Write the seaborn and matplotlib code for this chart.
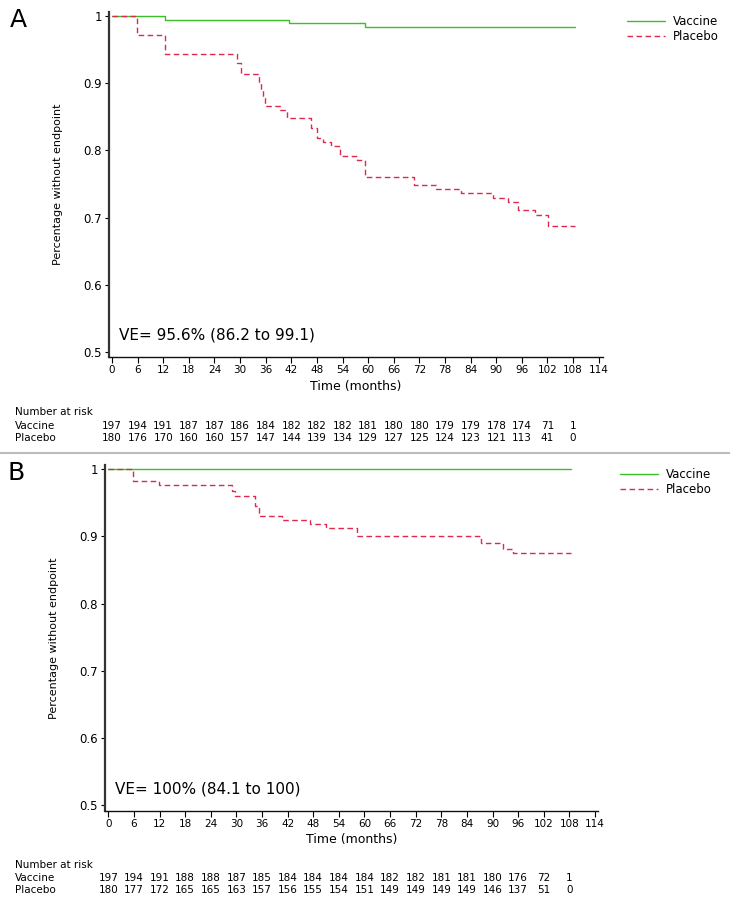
import numpy as np
import pandas as pd
import matplotlib
matplotlib.use("Agg")
import matplotlib.pyplot as plt
import matplotlib.transforms as mtransforms
import seaborn as sns

# ------------------------
# Data
# ------------------------

risk_months = [0, 6, 12, 18, 24, 30, 36, 42, 48, 54, 60, 66, 72, 78, 84, 90, 96, 102, 108]

# Panel A
a_vac_t = [0, 12.5, 41.5, 59.3, 108.5]
a_vac_s = [1.0, 0.994, 0.989, 0.984, 0.984]
a_pla_t = [0, 5.9, 12.4, 29.3, 30.3, 34.4, 34.9, 35.4, 35.9, 39.4, 40.9, 46.7, 47.9,
           49.5, 51.4, 53.4, 57.3, 59.2, 70.7, 76.0, 81.7, 89.2, 92.8, 95.2, 99.1, 102.2, 108.5]
a_pla_s = [1.0, 0.972, 0.943, 0.930, 0.913, 0.902, 0.890, 0.878, 0.866, 0.860, 0.848, 0.833, 0.819,
           0.813, 0.807, 0.791, 0.785, 0.760, 0.748, 0.742, 0.736, 0.729, 0.723, 0.711, 0.704, 0.688, 0.688]
a_risk_vac = [197, 194, 191, 187, 187, 186, 184, 182, 182, 182, 181, 180, 180, 179, 179, 178, 174, 71, 1]
a_risk_pla = [180, 176, 170, 160, 160, 157, 147, 144, 139, 134, 129, 127, 125, 124, 123, 121, 113, 41, 0]
a_ve = "VE= 95.6% (86.2 to 99.1)"

# Panel B
b_vac_t = [0, 108.3]
b_vac_s = [1.0, 1.0]
b_pla_t = [0, 5.9, 11.9, 28.9, 29.7, 34.4, 35.2, 40.6, 47.2, 51.1, 58.2, 87.4, 92.5, 94.7, 108.3]
b_pla_s = [1.0, 0.983, 0.977, 0.967, 0.961, 0.945, 0.930, 0.924, 0.918, 0.912, 0.900, 0.890, 0.882, 0.876, 0.876]
b_risk_vac = [197, 194, 191, 188, 188, 187, 185, 184, 184, 184, 184, 182, 182, 181, 181, 180, 176, 72, 1]
b_risk_pla = [180, 177, 172, 165, 165, 163, 157, 156, 155, 154, 151, 149, 149, 149, 149, 146, 137, 51, 0]
b_ve = "VE= 100% (84.1 to 100)"

y_ticks = [0.5, 0.6, 0.7, 0.8, 0.9, 1.0]
y_tick_labels = ["0.5", "0.6", "0.7", "0.8", "0.9", "1"]
x_ticks = list(range(0, 115, 6))

groups = ["Vaccine", "Placebo"]
palette = {"Vaccine": "#3cbf28", "Placebo": "#e0284e"}
dashes = {"Vaccine": "", "Placebo": (4, 2.5)}

sns.set_style("white")
plt.rcParams["font.family"] = ["DejaVu Sans"]
plt.rcParams["text.color"] = "black"
plt.rcParams["axes.labelcolor"] = "black"
plt.rcParams["xtick.color"] = "black"
plt.rcParams["ytick.color"] = "black"

fig = plt.figure(figsize=(7.3, 9.05), dpi=100)
W, H = 730, 905


def make_df(vt, vs, pt, ps):
    return pd.concat([
        pd.DataFrame({"time": vt, "surv": vs, "group": "Vaccine"}),
        pd.DataFrame({"time": pt, "surv": ps, "group": "Placebo"}),
    ], ignore_index=True)


def panel(box, df, letter, ve, risk_vac, risk_pla, xlim, ylim, legend_xy, letter_xy, risk_y):
    l, t, r, b = box
    ax = fig.add_axes([l / W, 1 - b / H, (r - l) / W, (b - t) / H])
    sns.lineplot(data=df, x="time", y="surv", hue="group", style="group",
                 hue_order=groups, style_order=groups, palette=palette, dashes=dashes,
                 drawstyle="steps-post", linewidth=1.0, ax=ax, estimator=None, sort=False)
    ax.set_xlim(*xlim)
    ax.set_ylim(*ylim)
    ax.set_xticks(x_ticks)
    ax.set_xticklabels([str(x) for x in x_ticks], fontsize=7.5)
    ax.set_yticks(y_ticks)
    ax.set_yticklabels(y_tick_labels, fontsize=8.5)
    ax.tick_params(axis="x", direction="out", length=4, width=0.8, pad=2, bottom=True)
    ax.tick_params(axis="y", direction="out", length=3, width=0.8, pad=2, left=True)
    for s in ["top", "right"]:
        ax.spines[s].set_visible(False)
    ax.spines["left"].set_linewidth(1.6)
    ax.spines["left"].set_color("#333333")
    ax.spines["bottom"].set_linewidth(1.0)
    ax.spines["bottom"].set_color("#111111")
    ax.set_xlabel("Time (months)", fontsize=9, labelpad=3)
    ax.set_ylabel("Percentage without endpoint", fontsize=8, labelpad=15)
    ax.text(0.02, 0.065, ve, transform=ax.transAxes, fontsize=11, ha="left", va="center")

    sns.move_legend(ax, "upper left", bbox_to_anchor=(legend_xy[0] / W, 1 - legend_xy[1] / H),
                    bbox_transform=fig.transFigure, frameon=False, title=None, fontsize=8.5,
                    handlelength=3.2, handletextpad=0.65, labelspacing=0.15, borderaxespad=0,
                    borderpad=0)

    fig.text(letter_xy[0] / W, 1 - letter_xy[1] / H, letter, fontsize=18, ha="left", va="center")

    # number at risk table
    trans = mtransforms.blended_transform_factory(ax.transData, fig.transFigure)
    fig.text(15 / W, 1 - risk_y[0] / H, "Number at risk", fontsize=7.5, va="center")
    fig.text(15 / W, 1 - risk_y[1] / H, "Vaccine", fontsize=7.5, va="center")
    fig.text(15 / W, 1 - risk_y[2] / H, "Placebo", fontsize=7.5, va="center")
    for m, v, p in zip(risk_months, risk_vac, risk_pla):
        ax.text(m, 1 - risk_y[1] / H, str(v), transform=trans, fontsize=7.5, ha="center", va="center", clip_on=False)
        ax.text(m, 1 - risk_y[2] / H, str(p), transform=trans, fontsize=7.5, ha="center", va="center", clip_on=False)
    return ax


df_a = make_df(a_vac_t, a_vac_s, a_pla_t, a_pla_s)
df_b = make_df(b_vac_t, b_vac_s, b_pla_t, b_pla_s)

panel((109, 12, 603, 357), df_a, "A", a_ve, a_risk_vac, a_risk_pla,
      xlim=(-0.7, 115), ylim=(0.4925, 1.006), legend_xy=(627, 15), letter_xy=(10, 20),
      risk_y=(412, 426, 438))
panel((105, 465, 598, 811), df_b, "B", b_ve, b_risk_vac, b_risk_pla,
      xlim=(-0.77, 114.7), ylim=(0.4915, 1.0064), legend_xy=(620, 468), letter_xy=(8, 473),
      risk_y=(865, 878, 890))

# separator line between the panels
fig.add_artist(plt.Line2D([0, 1], [1 - 453 / H, 1 - 453 / H], color="#bbbbbb", linewidth=1.5,
                          transform=fig.transFigure))

fig.savefig("out.png", dpi=100)
